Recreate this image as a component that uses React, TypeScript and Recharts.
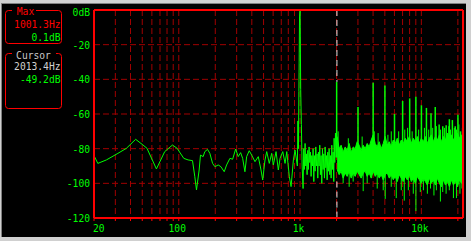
import React from 'react';
import { ComposedChart, Line, Area, XAxis, YAxis, CartesianGrid, ReferenceLine } from 'recharts';

// ---------- data ----------
const gridFreqs = [20, 30, 40, 50, 60, 70, 80, 90, 100, 200, 300, 400, 500, 600, 700, 800, 900,
  1000, 2000, 3000, 4000, 5000, 6000, 7000, 8000, 9000, 10000, 20000];
const xLabelValues = [20, 100, 1000, 10000];
const xLabelTexts = ['20', '100', '1k', '10k'];
const yTicks = [0, -20, -40, -60, -80, -100, -120];
const yLabelTexts = ['0dB', '-20', '-40', '-60', '-80', '-100', '-120'];

// main trace (20 Hz .. 2 kHz)
const lineFreqs = [20.2, 21.5, 25.3, 31.5, 37, 44.1, 50.7, 54.7, 65.4, 76.6, 88.7, 96.9, 110, 119.4, 129.8,
  135.6, 140, 147.2, 151, 158.8, 164, 172.6, 180.4, 190, 198.6, 211.4, 222.4, 237, 247.9, 264, 278, 294.4,
  309, 323.6, 336.3, 351, 362.8, 381, 399, 425, 452.5, 476.4, 492, 514, 531, 557.6, 583.7, 602, 634, 662,
  684, 720, 752, 777, 816, 843, 881, 909, 950, 960, 970, 978, 990, 1001, 1012, 1025, 1040, 1059,
  1072, 1085, 1100, 1115, 1128, 1143, 1158, 1172, 1187, 1203, 1218, 1233, 1249, 1265, 1281, 1298, 1311,
  1331, 1348, 1365, 1382, 1400, 1418, 1436, 1454, 1472, 1491, 1510, 1530, 1549, 1569, 1589, 1609, 1630,
  1651, 1672, 1693, 1715, 1736, 1759, 1781, 1804, 1827, 1850, 1873, 1897, 1909, 1933, 1958, 1983, 2021];
const lineDb = [-84.6, -88.5, -86.5, -82.7, -79.8, -74.6, -77.9, -79.8, -91.7, -81.7, -77.9, -79.8, -85.6, -86.5, -86.9,
  -96.2, -103.8, -92.3, -83.7, -84.6, -81.7, -80.4, -82.7, -88.5, -90.4, -89.4, -90.4, -93.3, -89.4, -85.6, -86.1, -80.2,
  -84.6, -82.3, -85.6, -93.3, -84.6, -81.2, -83.7, -87.5, -84.6, -92.3, -98.1, -86.5, -81.7, -88.5, -82.7, -89.4, -81.7, -92.3,
  -85.6, -81.7, -88.5, -81.7, -96.2, -101.9, -86.5, -80.8, -90, -64, -80, -47, -3.5, 0, -46, -66, -90, -103,
  -80, -92, -77, -90, -83, -95, -81, -92, -79, -88, -82, -96, -84, -90, -80, -99, -84,
  -93, -79, -90, -83, -97, -82, -90, -78, -95, -84, -100, -80, -92, -83, -97, -79, -91,
  -84, -98, -82, -93, -80, -95, -84, -97, -78, -92, -82, -99, -74, -88, -71, -85, -80];

// dense noise band (2 kHz .. 22 kHz): lower / upper envelope
const bandFreqs = [2021, 2100, 2181, 2266, 2354, 2445, 2540, 2638, 2741, 2847, 2957, 3072, 3191, 3315, 3443, 3577,
  3715, 3859, 4009, 4165, 4326, 4494, 4668, 4849, 5037, 5233, 5436, 5647, 5866, 6093, 6329, 6575, 6830, 7095, 7370,
  7656, 7953, 8261, 8581, 8914, 9260, 9620, 10000, 10388, 10791, 11210, 11645, 12097, 12566, 13054, 13560, 14087,
  14633, 15201, 15791, 16404, 17040, 17701, 18388, 19102, 19843, 20613, 21413, 22050];
const bandHi = [-73, -80, -78, -82, -79, -81, -77, -82, -79, -80, -76, -78, -81, -78, -80, -77,
  -79, -75, -72, -77, -79, -76, -80, -77, -73, -78, -76, -79, -75, -77, -74, -78, -75, -77, -74,
  -76, -73, -77, -74, -76, -73, -77, -74, -76, -73, -77, -74, -72, -76, -73, -75, -72,
  -76, -73, -75, -71, -74, -72, -75, -73, -71, -74, -72, -75];
const bandLo = [-92, -95, -93, -97, -94, -96, -93, -97, -94, -96, -93, -95, -97, -94, -93, -96,
  -94, -97, -93, -96, -94, -97, -95, -98, -95, -94, -97, -95, -98, -96, -99, -95, -97, -99, -96,
  -98, -95, -99, -97, -100, -96, -98, -100, -97, -99, -101, -97, -100, -98, -101, -97, -100,
  -102, -98, -101, -99, -102, -98, -101, -99, -102, -98, -100, -97];

// harmonic and noise peaks above the band
const spikeFreqs = [2003, 3004, 4005, 5007, 6008, 7009, 8010, 9012, 10013, 11014, 12016, 13017, 14018, 15020,
  16021, 17022, 18023, 19025, 20026, 21027];
const spikeDb = [-41.5, -56, -42, -43.5, -60, -52.5, -51, -50, -55, -56.5, -59.5, -56, -66, -67,
  -66.5, -63, -63.5, -67, -60.5, -70];
const noisePeakFreqs = [2060, 2500, 3250, 4090, 4400, 5300, 5650, 6500, 7300, 7700, 8400, 9500, 10600, 11500,
  12400, 13300, 14400, 15500, 16800, 17400, 18700, 19500, 20400, 21800];
const noisePeakDb = [-70, -74, -73, -70, -71, -72, -70, -70, -69, -68, -70, -69, -68, -69,
  -68, -67, -69, -68, -67, -69, -68, -69, -66, -68];
// dips below the band
const dipFreqs = [2266, 2540, 2741, 3315, 3577, 4326, 4849, 5037, 5647, 6210, 6830, 7231, 7811, 8581, 9020,
  9804, 10400, 11210, 11900, 12700, 13300, 14357, 15000, 16000, 17000, 18388, 19469, 20800, 21600];
const dipDb = [-100, -102, -99, -104.5, -100, -103, -104, -109, -102, -108.5, -104, -110, -104, -106, -116,
  -105, -104, -106, -103, -107, -104, -110.5, -105, -106, -104, -108.5, -108.5, -106, -103];

// cursor: visible parts above the 2k spike and below the noise band
const cursorFreq = 2013.4;
const cursorVisibleDb = [[0, -41.5], [-99, -120]];
const maxFreqText = '1001.3Hz';
const maxDbText = '0.1dB';
const cursorFreqText = '2013.4Hz';
const cursorDbText = '-49.2dB';

// ---------- tables ----------
const lineData = lineFreqs.map((f, i) => ({ f, db: lineDb[i] }));
const bandData = bandFreqs.map((f, i) => ({ f, range: [bandLo[i], bandHi[i]] }));

const GREEN = '#00ff00';
const RED = '#ff0000';
const GRID = '#a00000';
const FONT = 'DejaVu Sans Mono';
const CW = 5.8;

const XTick = (props: any) => {
  const { x, payload } = props;
  const idx = xLabelValues.indexOf(payload.value);
  if (idx < 0) return <g />;
  const label = xLabelTexts[idx];
  const first = idx === 0;
  return (
    <text x={first ? x - 1 : x - 1.5} y={232} textAnchor={first ? 'start' : 'middle'} fill={GREEN}
      fontFamily={FONT} fontSize={11} textLength={label.length * CW} lengthAdjust="spacingAndGlyphs">{label}</text>
  );
};

const YTick = (props: any) => {
  const { y, payload } = props;
  const idx = yTicks.indexOf(payload.value);
  const label = yLabelTexts[idx];
  return (
    <text x={90} y={idx === 0 ? y + 6 : y + 4} textAnchor="end" fill={GREEN}
      fontFamily={FONT} fontSize={11} textLength={label.length * CW} lengthAdjust="spacingAndGlyphs">{label}</text>
  );
};

const PanelText = ({ x, y, anchor, fill, text }: any) => (
  <text x={x} y={y} textAnchor={anchor} fill={fill} fontFamily={FONT} fontSize={11}
    textLength={text.length * CW} lengthAdjust="spacingAndGlyphs">{text}</text>
);

export default function App() {
  return (
    <div style={{ position: 'fixed', left: 0, top: 0, width: 471, height: 241, background: '#d0d0d0', overflow: 'hidden' }}>
      <svg width={471} height={241} style={{ position: 'absolute', left: 0, top: 0 }}>
        <rect x={1} y={3} width={465} height={234} fill="#808080" />
        <rect x={2} y={4} width={464} height={233} fill="#000" />
        {/* Max box */}
        <rect x={5.5} y={10.5} width={56} height={33} rx={3} fill="none" stroke={RED} />
        <rect x={12} y={8} width={24} height={5} fill="#000" />
        <PanelText x={25.5} y={15} anchor="middle" fill={RED} text="Max" />
        <PanelText x={60.5} y={27.5} anchor="end" fill={RED} text={maxFreqText} />
        <PanelText x={60.5} y={40.5} anchor="end" fill={GREEN} text={maxDbText} />
        {/* Cursor box */}
        <rect x={5.5} y={53.5} width={56} height={55} rx={3} fill="none" stroke={RED} />
        <rect x={12} y={51} width={44} height={5} fill="#000" />
        <PanelText x={33.5} y={58.5} anchor="middle" fill="#c8c8c8" text="Cursor" />
        <PanelText x={60.5} y={70} anchor="end" fill="#d0d0d0" text={cursorFreqText} />
        <PanelText x={60.5} y={82.5} anchor="end" fill={GREEN} text={cursorDbText} />
      </svg>
      <div style={{ position: 'absolute', left: 0, top: 0 }}>
        <ComposedChart width={471} height={241} margin={{ top: 10, right: 8, bottom: 3, left: 54 }}>
          <CartesianGrid stroke={GRID} strokeDasharray="6 3" />
          <XAxis type="number" dataKey="f" scale="log" domain={[20, 22050]} allowDataOverflow
            ticks={gridFreqs} interval={0} height={20} tickSize={3}
            axisLine={{ stroke: RED, strokeWidth: 2 }} tickLine={{ stroke: RED }} tick={<XTick />} />
          <YAxis type="number" domain={[-120, 0]} allowDataOverflow ticks={yTicks} interval={0} width={40}
            axisLine={{ stroke: RED, strokeWidth: 2 }} tickLine={false} tick={<YTick />} />
          <Area data={bandData} dataKey="range" type="linear" stroke={GREEN} strokeWidth={1} fill={GREEN}
            fillOpacity={1} isAnimationActive={false} dot={false} activeDot={false} />
          <Line data={lineData} dataKey="db" type="linear" stroke={GREEN} strokeWidth={1} dot={false}
            activeDot={false} isAnimationActive={false} />
          {cursorVisibleDb.map((seg, i) => (
            <ReferenceLine key={'c' + i} segment={[{ x: cursorFreq, y: seg[0] }, { x: cursorFreq, y: seg[1] }]}
              stroke="#e0e0e0" strokeDasharray="6 4" ifOverflow="visible" />
          ))}
          {spikeFreqs.map((f, i) => (
            <ReferenceLine key={'s' + i} segment={[{ x: f, y: -85 }, { x: f, y: spikeDb[i] }]}
              stroke={GREEN} strokeWidth={1.5} ifOverflow="visible" />
          ))}
          {noisePeakFreqs.map((f, i) => (
            <ReferenceLine key={'n' + i} segment={[{ x: f, y: -85 }, { x: f, y: noisePeakDb[i] }]}
              stroke={GREEN} strokeWidth={1} ifOverflow="visible" />
          ))}
          {dipFreqs.map((f, i) => (
            <ReferenceLine key={'d' + i} segment={[{ x: f, y: -90 }, { x: f, y: dipDb[i] }]}
              stroke={GREEN} strokeWidth={1} ifOverflow="visible" />
          ))}
          <ReferenceLine y={0} stroke={RED} strokeWidth={2} ifOverflow="visible" />
          <ReferenceLine x={22050} stroke={RED} strokeWidth={2} ifOverflow="visible" />
        </ComposedChart>
      </div>
    </div>
  );
}
